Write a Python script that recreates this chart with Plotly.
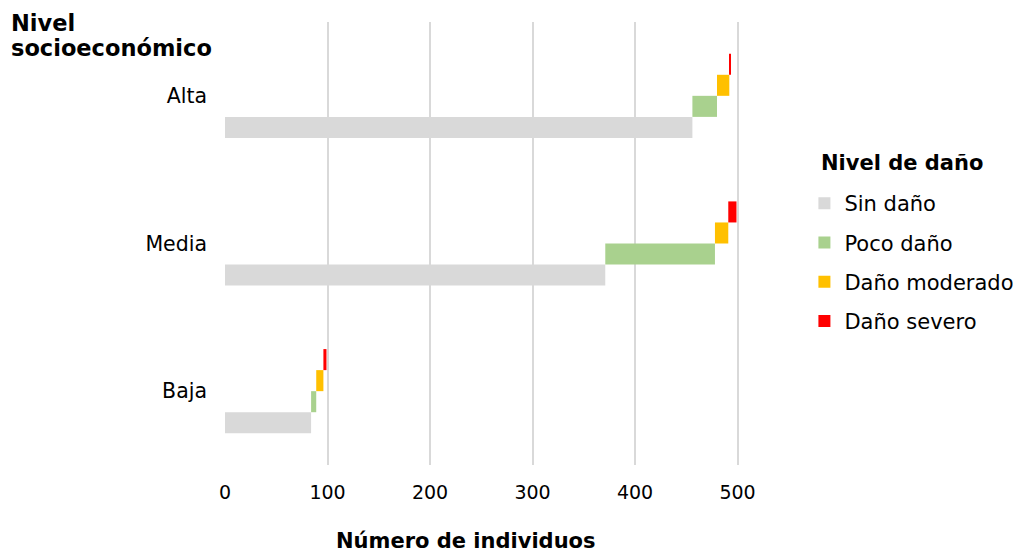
import plotly.graph_objects as go

categorias = ["Baja", "Media", "Alta"]
series = ["Sin daño", "Poco daño", "Daño moderado", "Daño severo"]
sin_dano = [84, 371, 456]
poco_dano = [5, 107, 24]
dano_moderado = [7, 13, 12]
dano_severo = [3, 8, 1]
colores = ["#d9d9d9", "#a9d18e", "#ffc000", "#ff0000"]
x_ticks = [0, 100, 200, 300, 400, 500]

valores = [sin_dano, poco_dano, dano_moderado, dano_severo]

FONT = "DejaVu Sans"
fig = go.Figure()
bases = [0] * len(categorias)
for i, (name, vals) in enumerate(zip(series, valores)):
    fig.add_trace(go.Bar(
        y=categorias, x=vals, base=list(bases), name=name,
        orientation="h", marker=dict(color=colores[i], line=dict(width=0)),
        legendgroup=name,
    ))
    bases = [b + v for b, v in zip(bases, vals)]

# page places the figure 8px from top-left; coordinates below are figure px
W, H = 1013, 546
L, T = 216.5, 14
R_px = 750.5
BOT = 457
pw = R_px - L
ph = BOT - T


def px(xp):
    return (xp - L) / pw


def py(yp):
    return (BOT - yp) / ph


fig.update_layout(
    width=W, height=H,
    margin=dict(l=L, r=W - R_px, t=T, b=H - BOT, pad=0, autoexpand=False),
    barmode="group", bargap=0.43, bargroupgap=0,
    plot_bgcolor="white", paper_bgcolor="white",
    font=dict(family=FONT, size=19, color="#000000"),
    showlegend=True,
    legend=dict(
        font=dict(size=21, family=FONT),
        x=px(797), xanchor="left",
        y=py(175), yanchor="top",
        traceorder="grouped", tracegroupgap=9,
        bgcolor="rgba(0,0,0,0)",
    ),
    xaxis=dict(
        range=[0, 520], tickvals=x_ticks, showgrid=True,
        gridcolor="#d9d9d9", gridwidth=1.5, zeroline=False,
        showline=False, ticks="", ticklabelstandoff=14,
        tickfont=dict(size=19),
    ),
    yaxis=dict(
        showgrid=False, zeroline=False, showline=False, ticks="",
        ticklabelstandoff=17, tickfont=dict(size=20.5),
        range=[-0.5, 2.5],
    ),
    annotations=[
        dict(text="<b>Número de individuos</b>", xref="paper", yref="paper",
             x=px(458), y=py(519), xanchor="center",
             yanchor="top", showarrow=False, font=dict(size=21, family=FONT)),
        dict(text="<b>Nivel</b>", xref="paper", yref="paper",
             x=px(0), y=py(0), xanchor="left", yanchor="top",
             align="left", showarrow=False, font=dict(size=22.5, family=FONT)),
        dict(text="<b>socioeconómico</b>", xref="paper", yref="paper",
             x=px(0), y=py(25), xanchor="left", yanchor="top",
             align="left", showarrow=False, font=dict(size=22.5, family=FONT)),
        dict(text="<b>Nivel de daño</b>", xref="paper", yref="paper",
             x=px(812), y=py(155), xanchor="left", yanchor="middle",
             align="left", showarrow=False, font=dict(size=21, family=FONT)),
    ],
)

fig.write_html("out.html")
